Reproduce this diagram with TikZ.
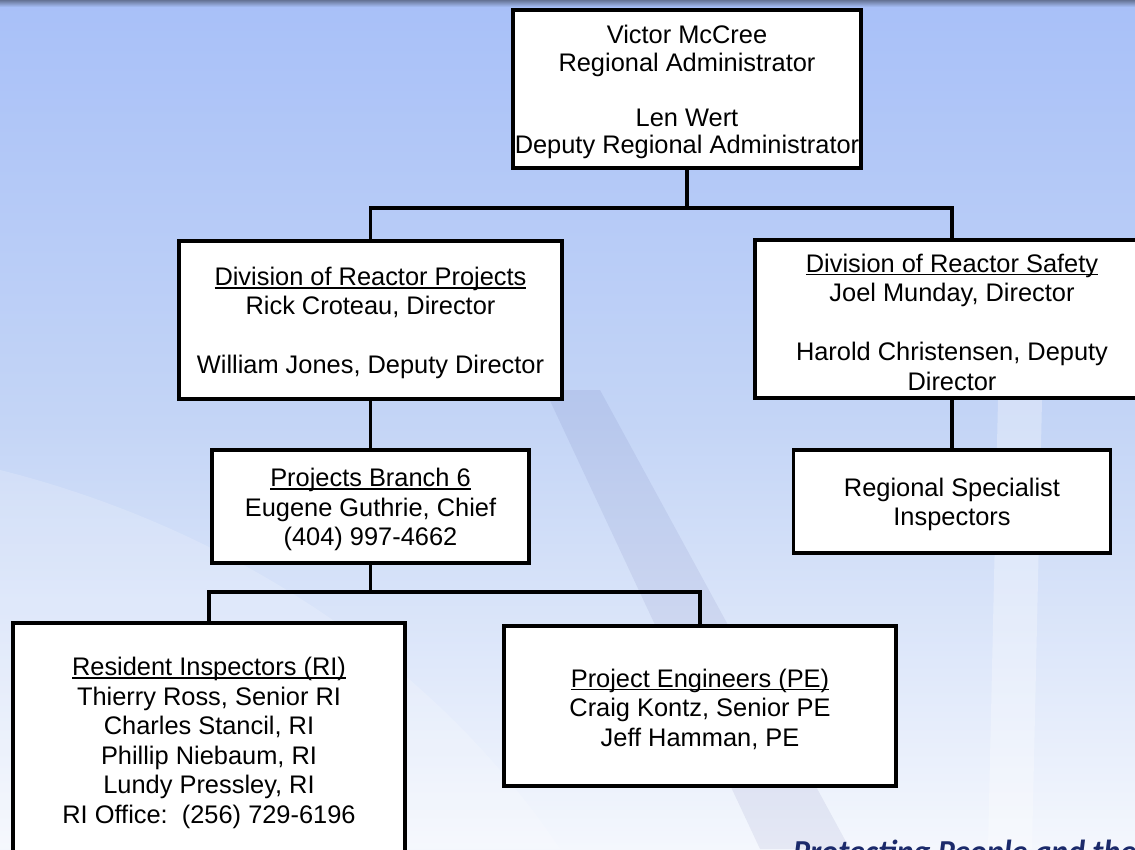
\documentclass[tikz,border=0pt]{standalone}
\usepackage{fontspec}
\setmainfont{Liberation Sans}
\newfontfamily\footerfont{Carlito}
\definecolor{bgtop}{HTML}{A8C0F8}
\definecolor{bgmid}{HTML}{C4D5F6}
\definecolor{bgbot}{HTML}{F4F7FD}
\definecolor{navy}{HTML}{1B2A6B}
\newcommand{\uln}[1]{\setbox0\hbox{#1}\rlap{\rule[-3.2pt]{\wd0}{1.8pt}}\box0}
\newcommand{\tp}{\rule{0pt}{24.5pt}}
\begin{document}
\begin{tikzpicture}[x=1pt,y=-1pt,
  box/.style={draw=black, line width=3.5pt, fill=white, align=center, inner sep=0pt,
    font=\fontsize{25.4}{29.5}\selectfont, line join=miter},
  conn/.style={draw=black, line width=3.5pt, line join=miter}]
\useasboundingbox (0,0) rectangle (1135,849);
\clip (0,0) rectangle (1135,849);
% background
\shade[top color=bgtop, bottom color=bgbot, middle color=bgmid] (0,0) rectangle (1135,849);
\shade[top color=black!40!bgtop, bottom color=bgtop] (0,0) rectangle (1135,7);
\fill[blue!40!black, opacity=0.06] (545,390) -- (600,390) -- (850,849) -- (760,849) -- cycle;
\fill[white, opacity=0.30] (998,400) -- (1042,400) -- (1032,849) -- (988,849) -- cycle;
\fill[white, opacity=0.18] (0,470) .. controls (200,520) and (420,640) .. (560,849) -- (0,849) -- cycle;
% nodes
\node[box, minimum width=348pt, minimum height=158pt, font=\fontsize{25.4}{27.5}\selectfont] (vic) at (687,89)
  {\tp Victor McCree\\Regional Administrator\\ \strut\\Len Wert\\Deputy Regional Administrator};
\node[box, minimum width=383pt, minimum height=158pt] (drp) at (370.5,320)
  {\tp\uln{Division of Reactor Projects}\\Rick Croteau, Director\\ \strut\\William Jones, Deputy Director};
\node[box, minimum width=394pt, minimum height=158pt] (drs) at (952,319)
  {\tp\uln{Division of Reactor Safety}\\Joel Munday, Director\\ \strut\\Harold Christensen, Deputy\\Director};
\node[box, minimum width=317pt, minimum height=113pt] (pb6) at (370.5,506.5)
  {\tp\uln{Projects Branch 6}\\Eugene Guthrie, Chief\\(404) 997-4662};
\node[box, minimum width=317pt, minimum height=103pt] (rsi) at (952,501.5)
  {\tp Regional Specialist\\Inspectors};
\node[box, minimum width=392pt, minimum height=234pt] (ri) at (209,740)
  {\tp\uln{Resident Inspectors (RI)}\\Thierry Ross, Senior RI\\Charles Stancil, RI\\Phillip Niebaum, RI\\Lundy Pressley, RI\\RI Office:\ \ (256) 729-6196};
\node[box, minimum width=392pt, minimum height=160pt] (pe) at (700,706)
  {\tp\uln{Project Engineers (PE)}\\Craig Kontz, Senior PE\\Jeff Hamman, PE};
% connectors
\coordinate (b1) at (687,208);
\coordinate (b2) at (370.5,592);
\draw[conn] (vic.south) -- (b1);
\draw[conn] (drp.north) |- (b1) -| (drs.north);
\draw[conn] (drp.south) -- (pb6.north);
\draw[conn] (drs.south) -- (rsi.north);
\draw[conn] (pb6.south) -- (b2);
\draw[conn] (ri.north) |- (b2) -| (pe.north);
% footer (cut off by the page edge, as in the reference)
\node[anchor=base west, inner sep=0pt, text=navy,
  font=\footerfont\bfseries\itshape\fontsize{32}{36}\selectfont] (foot) at (793,862)
  {Protecting People and the Environment};
\end{tikzpicture}
\end{document}
